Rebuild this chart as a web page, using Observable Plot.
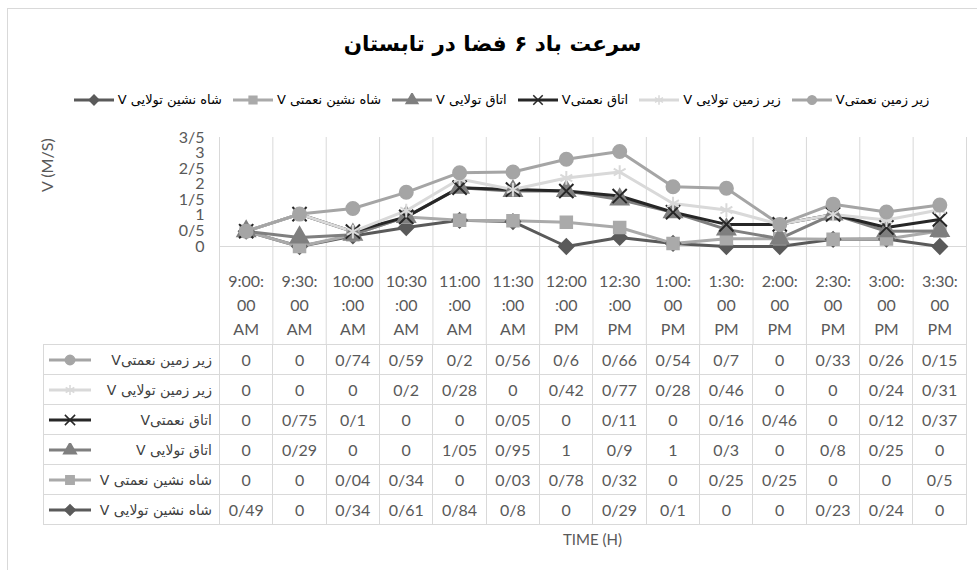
<!DOCTYPE html>
<html>
<head>
<meta charset="utf-8">
<script src="https://cdn.jsdelivr.net/npm/d3@7"></script>
<script src="https://cdn.jsdelivr.net/npm/@observablehq/plot@0.6"></script>
<style>
  html, body { margin: 0; padding: 0; background: #fff; }
  #root { position: relative; width: 977px; height: 570px; overflow: hidden; background: #fff; font-family: Lato, "DejaVu Sans", sans-serif; color: #595959; }
  #frame { position: absolute; left: 7px; top: 8px; width: 1000px; height: 600px; border: 1.5px solid #d9d9d9; box-sizing: border-box; }
  #title { position: absolute; left: 0; width: 985px; top: 31px; text-align: center; font-family: "DejaVu Sans", sans-serif; font-weight: bold; font-size: 21.5px; color: #000; direction: rtl; }
  #legend { position: absolute; left: 0; width: 1003px; top: 92px; display: flex; justify-content: center; direction: rtl; gap: 11px; font-family: "DejaVu Sans", sans-serif; font-size: 13px; color: #000; }
  #legend .item { display: flex; align-items: center; gap: 4px; direction: rtl; white-space: nowrap; }
  #chart { position: absolute; left: 0; top: 120px; }
  #tbl { position: absolute; left: 43px; top: 344px; border-collapse: collapse; table-layout: fixed; }
  #tbl td { border: 1px solid #d9d9d9; height: 29px; padding: 0; text-align: center; font-family: Lato, sans-serif; font-size: 16px; color: #595959; white-space: nowrap; }
  #tbl td.lab { direction: ltr; }
  #tbl td.lab div { display: flex; justify-content: space-between; align-items: center; padding: 0 7px 0 5px; }
  #tbl td.lab span { direction: rtl; font-family: "DejaVu Sans", sans-serif; font-size: 14px; color: #404040; }
  #xlab { position: absolute; top: 530px; font-size: 15px; color: #595959; text-align: center; }
</style>
</head>
<body>
<div id="root">
  <div id="frame"></div>
  <div id="title"></div>
  <div id="legend"></div>
  <div id="chart"></div>
  <table id="tbl"></table>
  <div id="xlab"></div>
</div>
<script>
// ---------------- data ----------------
const titleText = "سرعت باد ۶ فضا در تابستان";
const yTitle = "V (M/S)";
const xTitle = "TIME (H)";
const times = ["9:00:00 AM", "9:30:00 AM", "10:00:00 AM", "10:30:00 AM", "11:00:00 AM", "11:30:00 AM",
  "12:00:00 PM", "12:30:00 PM", "1:00:00 PM", "1:30:00 PM", "2:00:00 PM", "2:30:00 PM", "3:00:00 PM", "3:30:00 PM"];
const seriesNames = ["زیر زمین نعمتیV", "زیر زمین تولایی V", "اتاق نعمتیV", "اتاق تولایی V", "شاه نشین نعمتی V", "شاه نشین تولایی V"];
const zirZaminNemati   = [0, 0, 0.74, 0.59, 0.2, 0.56, 0.6, 0.66, 0.54, 0.7, 0, 0.33, 0.26, 0.15];
const zirZaminTolayi   = [0, 0, 0, 0.2, 0.28, 0, 0.42, 0.77, 0.28, 0.46, 0, 0, 0.24, 0.31];
const otaghNemati      = [0, 0.75, 0.1, 0, 0, 0.05, 0, 0.11, 0, 0.16, 0.46, 0, 0.12, 0.37];
const otaghTolayi      = [0, 0.29, 0, 0, 1.05, 0.95, 1, 0.9, 1, 0.3, 0, 0.8, 0.25, 0];
const shahneshinNemati = [0, 0, 0.04, 0.34, 0, 0.03, 0.78, 0.32, 0, 0.25, 0.25, 0, 0, 0.5];
const shahneshinTolayi = [0.49, 0, 0.34, 0.61, 0.84, 0.8, 0, 0.29, 0.1, 0, 0, 0.23, 0.24, 0];
const seriesValues = [zirZaminNemati, zirZaminTolayi, otaghNemati, otaghTolayi, shahneshinNemati, shahneshinTolayi];
const yTicks = [0, 0.5, 1, 1.5, 2, 2.5, 3, 3.5];

// ---------------- styles ----------------
const seriesColors = ["#a5a5a5", "#d9d9d9", "#262626", "#7f7f7f", "#aaaaaa", "#5a5a5a"];
const seriesSymbols = [d3.symbolCircle, d3.symbolAsterisk, d3.symbolTimes, d3.symbolTriangle, d3.symbolSquare, d3.symbolDiamond2 || d3.symbolDiamond];

const fmt = v => String(v).replace(".", "/");
const wrapTime = s => { const [t, ap] = s.split(" "); return t.slice(0, 5) + "\n" + t.slice(5) + "\n" + ap; };

// rows stacked bottom-first (last table row is the bottom of the stack)
const rows = [];
for (let s = seriesNames.length - 1; s >= 0; s--) {
  times.forEach((t, i) => rows.push({x: i, t, s: seriesNames[s], v: seriesValues[s][i]}));
}

const W = 977, H = 224, mL = 219, mR = 11, mT = 17, mB = 98;

const chart = Plot.plot({
  width: W, height: H,
  marginLeft: mL, marginRight: mR, marginTop: mT, marginBottom: mB,
  style: {fontFamily: "Lato, sans-serif", fontSize: "16px", color: "#595959", background: "transparent", overflow: "visible"},
  x: {domain: [-0.5, times.length - 0.5], axis: null},
  y: {domain: [0, 3.5], ticks: yTicks, tickFormat: fmt, tickSize: 0, tickPadding: 15, label: null},
  color: {domain: seriesNames, range: seriesColors},
  symbol: {domain: seriesNames, range: seriesSymbols},
  marks: [
    Plot.ruleX(d3.range(times.length + 1), {x: d => d - 0.5, stroke: "#d9d9d9", strokeWidth: 1, insetBottom: -mB}),
    Plot.ruleY([0], {stroke: "#d9d9d9", strokeWidth: 1}),
    Plot.text(times, {x: (d, i) => i, text: wrapTime, frameAnchor: "bottom", lineAnchor: "top", dy: 23, lineHeight: 1.5, fontSize: 16, fill: "#595959"}),
    Plot.text([yTitle], {frameAnchor: "left", dx: -172, rotate: -90, fontSize: 16, fill: "#595959"}),
    Plot.line(rows, Plot.stackY2({x: "x", y: "v", z: "s", stroke: "s", strokeWidth: 3})),
    Plot.dot(rows, Plot.stackY2({x: "x", y: "v", z: "s", fill: "s", stroke: "s", symbol: "s", r: 6.5, strokeWidth: 2}))
  ]
});
document.getElementById("chart").appendChild(chart);

// ---------------- title, legend, table ----------------
document.getElementById("title").textContent = titleText;

function keySvg(k, w, size) {
  const svg = d3.create("svg").attr("width", w).attr("height", 14);
  svg.append("line").attr("x1", 0).attr("x2", w).attr("y1", 7).attr("y2", 7)
    .attr("stroke", seriesColors[k]).attr("stroke-width", 3);
  svg.append("path").attr("transform", `translate(${w / 2},7)`)
    .attr("d", d3.symbol(seriesSymbols[k], size)())
    .attr("fill", seriesColors[k]).attr("stroke", seriesColors[k]).attr("stroke-width", 1.5);
  return svg.node();
}

const legend = document.getElementById("legend");
seriesNames.forEach((name, k) => {
  const item = document.createElement("div");
  item.className = "item";
  const sp = document.createElement("span");
  sp.textContent = name;
  item.appendChild(sp);
  item.appendChild(keySvg(k, 40, 60));
  legend.appendChild(item);
});

const xs = chart.scale("x");
const tbl = document.getElementById("tbl");
const colgroup = document.createElement("colgroup");
const c0 = document.createElement("col"); c0.style.width = (xs.apply(-0.5) - 43) + "px"; colgroup.appendChild(c0);
times.forEach((t, i) => {
  const c = document.createElement("col");
  c.style.width = (xs.apply(i + 0.5) - xs.apply(i - 0.5)) + "px";
  colgroup.appendChild(c);
});
tbl.appendChild(colgroup);
tbl.style.width = (xs.apply(times.length - 0.5) - 43) + "px";
seriesNames.forEach((name, k) => {
  const tr = document.createElement("tr");
  const td = document.createElement("td");
  td.className = "lab";
  const div = document.createElement("div");
  div.appendChild(keySvg(k, 42, 70));
  const sp = document.createElement("span");
  sp.textContent = name;
  div.appendChild(sp);
  td.appendChild(div);
  tr.appendChild(td);
  seriesValues[k].forEach(v => {
    const c = document.createElement("td");
    c.textContent = fmt(v);
    tr.appendChild(c);
  });
  tbl.appendChild(tr);
});

const xl = document.getElementById("xlab");
xl.textContent = xTitle;
xl.style.left = xs.apply(-0.5) + "px";
xl.style.width = (xs.apply(times.length - 0.5) - xs.apply(-0.5)) + "px";
</script>
</body>
</html>
